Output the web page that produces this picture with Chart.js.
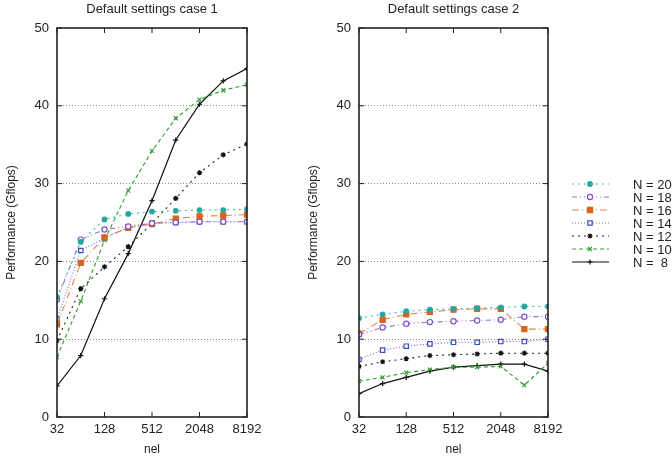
<!DOCTYPE html>
<html>
<head>
<meta charset="utf-8">
<script src="https://cdn.jsdelivr.net/npm/chart.js@4/dist/chart.umd.min.js"></script>
<style>
  body { margin: 0; background: #fff; }
  #wrap { position: relative; width: 672px; height: 461px; }
  canvas { position: absolute; top: 0; }
</style>
</head>
<body>
<div id="wrap">
  <canvas id="c1" width="290" height="461" style="left:0"></canvas>
  <canvas id="c2" width="382" height="461" style="left:290px"></canvas>
</div>
<script>
const nel = [32, 64, 128, 256, 512, 1024, 2048, 4096, 8192]
const xTicks = [32, 128, 512, 2048, 8192]
const yTicks = [0, 10, 20, 30, 40, 50]
const labels = ["N = 20", "N = 18", "N = 16", "N = 14", "N = 12", "N = 10", "N =  8"]
const titles = ["Default settings case 1", "Default settings case 2"]

// case 1
const c1_n20 = [15.4, 22.5, 25.4, 26.1, 26.4, 26.5, 26.6, 26.6, 26.7]
const c1_n18 = [15.1, 22.8, 24.1, 24.5, 24.9, 25.0, 25.1, 25.1, 25.1]
const c1_n16 = [11.9, 19.8, 23.1, 24.3, 24.8, 25.5, 25.8, 25.9, 26.0]
const c1_n14 = [12.6, 21.4, 23.0, 24.4, 24.9, 25.0, 25.1, 25.1, 25.1]
const c1_n12 = [9.8, 16.5, 19.3, 21.9, 24.9, 28.1, 31.4, 33.7, 35.1]
const c1_n10 = [7.7, 14.9, 22.7, 29.1, 34.2, 38.4, 40.8, 42.0, 42.7]
const c1_n8 = [4.0, 7.9, 15.2, 21.0, 27.8, 35.6, 40.2, 43.2, 44.8]

// case 2
const c2_n20 = [12.7, 13.2, 13.6, 13.8, 13.9, 14.0, 14.1, 14.2, 14.2]
const c2_n18 = [10.6, 11.5, 12.0, 12.2, 12.3, 12.4, 12.5, 12.9, 12.9]
const c2_n16 = [10.7, 12.5, 13.2, 13.5, 13.8, 13.9, 13.9, 11.3, 11.3]
const c2_n14 = [7.4, 8.6, 9.1, 9.4, 9.6, 9.6, 9.7, 9.7, 10.0]
const c2_n12 = [6.5, 7.1, 7.5, 7.9, 8.0, 8.1, 8.2, 8.2, 8.2]
const c2_n10 = [4.6, 5.1, 5.7, 6.1, 6.4, 6.4, 6.5, 4.1, 6.9]
const c2_n8 = [3.0, 4.3, 5.1, 5.9, 6.4, 6.6, 6.8, 6.8, 5.9]

const styles = [
  { line: "#3ab8b0", mark: "#22a8a0", dash: [2, 4], point: "circle", fill: true, r: 2.3 },
  { line: "#9a70d8", mark: "#8050c8", dash: [5, 3, 1, 3, 1, 3], point: "circle", fill: false, r: 2.6 },
  { line: "#e08848", mark: "#d8641c", dash: [7, 3, 1, 3], point: "rect", fill: true, r: 3.6 },
  { line: "#6070d8", mark: "#3a4cc0", dash: [1, 2], point: "rect", fill: false, r: 3.1 },
  { line: "#222", mark: "#111", dash: [2, 4], point: "star", fill: false, r: 2.6 },
  { line: "#2e9e2e", mark: "#2e9e2e", dash: [4, 3], point: "crossRot", fill: false, r: 2.8 },
  { line: "#111", mark: "#111", dash: [], point: "cross", fill: false, r: 2.6 }
]

Chart.defaults.font.family = "'Liberation Sans', Arial, sans-serif"
Chart.defaults.color = "#222"

function makeDatasets(series) {
  return series.map((vals, i) => {
    const s = styles[i]
    return {
      label: labels[i],
      data: nel.map((n, k) => ({ x: Math.log2(n), y: vals[k] })),
      borderColor: s.line,
      borderWidth: i == 6 ? 1.2 : 1.1,
      borderDash: s.dash,
      pointStyle: s.point,
      pointRadius: s.r,
      pointBorderWidth: 1.2,
      pointBorderColor: s.mark,
      pointBackgroundColor: s.fill ? s.mark : "#fff",
      tension: 0,
      fill: false
    }
  })
}

const framePlugin = {
  id: "frame",
  afterDatasetsDraw(chart) {
    const { ctx, chartArea: a } = chart
    const x = chart.scales.x, y = chart.scales.y
    ctx.save()
    ctx.setLineDash([])
    ctx.strokeStyle = "#222"
    ctx.lineWidth = 1
    ctx.beginPath()
    yTicks.forEach(v => {
      const py = y.getPixelForValue(v)
      ctx.moveTo(a.left, py); ctx.lineTo(a.left + 5, py)
      ctx.moveTo(a.right, py); ctx.lineTo(a.right - 5, py)
    })
    xTicks.forEach(n => {
      const px = x.getPixelForValue(Math.log2(n))
      ctx.moveTo(px, a.bottom); ctx.lineTo(px, a.bottom - 5)
      ctx.moveTo(px, a.top); ctx.lineTo(px, a.top + 5)
    })
    ctx.stroke()
    ctx.lineWidth = 1.6
    ctx.strokeRect(a.left, a.top, a.right - a.left, a.bottom - a.top)
    ctx.restore()
  }
}

const legendPlugin = {
  id: "sideLegend",
  afterDraw(chart) {
    const ctx = chart.ctx
    const x0 = 572 - 290, x1 = 609 - 290, xm = 590 - 290, tx = 633 - 290
    ctx.save()
    chart.data.datasets.forEach((ds, i) => {
      const py = 184 + i * 13
      ctx.strokeStyle = ds.borderColor
      ctx.lineWidth = ds.borderWidth
      ctx.setLineDash(ds.borderDash)
      ctx.beginPath()
      ctx.moveTo(x0, py); ctx.lineTo(x1, py)
      ctx.stroke()
      ctx.setLineDash([])
      ctx.strokeStyle = ds.pointBorderColor
      ctx.fillStyle = ds.pointBackgroundColor
      ctx.lineWidth = ds.pointBorderWidth
      Chart.helpers.drawPoint(ctx, { pointStyle: ds.pointStyle, radius: ds.pointRadius, borderWidth: ds.pointBorderWidth, rotation: 0 }, xm, py)
      ctx.fillStyle = "#222"
      ctx.font = "13px 'Liberation Sans', Arial, sans-serif"
      ctx.textBaseline = "middle"
      ctx.textAlign = "left"
      ctx.fillText(ds.label, tx, py + 1)
    })
    ctx.restore()
  }
}

function makeChart(id, title, series, padding, withLegend) {
  return new Chart(document.getElementById(id), {
    type: "line",
    data: { datasets: makeDatasets(series) },
    options: {
      responsive: false,
      animation: false,
      layout: { padding },
      plugins: {
        legend: { display: false },
        tooltip: { enabled: false },
        title: {
          display: true, text: title, fullSize: false,
          font: { size: 13, weight: "normal" },
          padding: { top: 1.5, bottom: 10.9 }
        }
      },
      scales: {
        x: {
          type: "linear", min: 5, max: 13,
          afterFit: s => { s.height = 44 },
          grid: { display: false, drawTicks: false },
          border: { display: false },
          ticks: {
            stepSize: 2, padding: 5, maxRotation: 0,
            font: { size: 13 },
            callback: v => String(Math.pow(2, v))
          },
          title: { display: true, text: "nel", font: { size: 12 }, padding: { top: 4, bottom: 4 } }
        },
        y: {
          min: 0, max: 50,
          afterFit: s => { s.width = 57 },
          grid: {
            drawTicks: false, lineWidth: 1,
            color: c => (c.tick.value == 0 || c.tick.value == 50) ? "rgba(0,0,0,0)" : "#8a8a8a"
          },
          border: { display: false, dash: [1, 2] },
          ticks: { stepSize: 10, padding: 8, font: { size: 13 } },
          title: { display: true, text: "Performance (Gflops)", font: { size: 12 }, padding: { top: 4, bottom: 4 } }
        }
      }
    },
    plugins: withLegend ? [framePlugin, legendPlugin] : [framePlugin]
  })
}

makeChart("c1", titles[0], [c1_n20, c1_n18, c1_n16, c1_n14, c1_n12, c1_n10, c1_n8], { left: 0, right: 43, top: 0, bottom: 0 }, false)
makeChart("c2", titles[1], [c2_n20, c2_n18, c2_n16, c2_n14, c2_n12, c2_n10, c2_n8], { left: 12, right: 124, top: 0, bottom: 0 }, true)
</script>
</body>
</html>
